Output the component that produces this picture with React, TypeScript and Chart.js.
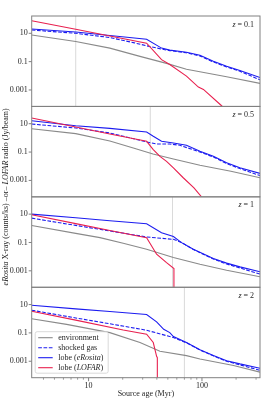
import React, { useEffect, useRef } from "react";
import { Chart, registerables } from "chart.js";

Chart.register(...registerables);

type P = [number, number];

const FONT = "'Liberation Serif', 'Times New Roman', serif";

const AGE_MIN = 3.15;
const AGE_MAX = 325;
const VAL_MIN = 6.9e-5;
const VAL_MAX = 166;

const redshifts = ["0.1", "0.5", "1", "2"];
const markerAges = [7.7, 35, 55, 70];

const xTickValues = [10, 100];
const xMinorTicks = [4, 5, 6, 7, 8, 9, 20, 30, 40, 50, 60, 70, 80, 90, 200, 300];
const yTickValues = [0.001, 0.1, 10];
const yTickLabels = ["0.001", "0.1", "10"];

const legendLabels = ["environment", "shocked gas", "lobe (eRosita)", "lobe (LOFAR)"];

// z = 0.1
const env_z01: P[] = [[3.15, 7.6], [7.7, 2.6], [15.4, 0.9], [28.4, 0.235], [48.7, 0.075], [73, 0.029], [165, 0.0085], [325, 0.0029]];
const shock_z01: P[] = [[3.15, 17], [7.7, 10], [15.4, 5], [24.8, 2.2], [32.5, 1.31], [44, 0.77], [52, 0.6], [73, 0.42], [96, 0.25], [126, 0.095], [165, 0.042], [216, 0.021], [325, 0.0052]];
const lobeX_z01: P[] = [[3.15, 20], [7.7, 12.4], [15.4, 7], [32.5, 3.8], [44, 0.9], [52, 0.65], [73, 0.46], [96, 0.28], [126, 0.105], [165, 0.047], [216, 0.024], [325, 0.0075]];
const lobeR_z01: P[] = [[3.15, 76], [7.7, 19.5], [15.4, 6.4], [32.5, 2.0], [44, 0.138], [52, 0.062], [73, 0.0095], [93, 0.0016], [103, 0.0011], [149, 7.7e-5], [180, 1.5e-5]];

// z = 0.5
const env_z05: P[] = [[3.15, 4.46], [7.7, 2.0], [15.4, 0.6], [24.8, 0.196], [37, 0.072], [56, 0.032], [96, 0.0117], [180, 0.0044], [325, 0.00154]];
const shock_z05: P[] = [[3.15, 9.5], [7.7, 5.0], [15.4, 2.2], [32.5, 0.52], [39.8, 0.37], [52, 0.37], [64, 0.3], [96, 0.1], [126, 0.045], [165, 0.0155], [216, 0.0068], [325, 0.0022]];
const lobeX_z05: P[] = [[3.15, 16.3], [7.7, 7.2], [15.4, 4.7], [32.5, 2.6], [37.2, 1.3], [44, 0.575], [56, 0.44], [73, 0.3], [96, 0.115], [126, 0.051], [165, 0.0174], [216, 0.0077], [325, 0.0031]];
const lobeR_z05: P[] = [[3.15, 25], [7.7, 5.8], [15.4, 1.9], [32.5, 0.575], [37.2, 0.15], [42.6, 0.05], [48.7, 0.022], [56, 0.0077], [68, 0.0016], [85, 0.0003], [99, 7e-5], [115, 1.5e-5]];

// z = 1
const env_z1: P[] = [[3.15, 1.6], [7.7, 0.44], [12.6, 0.22], [20.2, 0.087], [32.5, 0.033], [56, 0.0087], [96, 0.0029], [165, 0.0011], [325, 0.00038]];
const shock_z1: P[] = [[3.15, 5.2], [7.7, 1.6], [15.4, 0.65], [32.5, 0.245], [56, 0.166], [66, 0.1], [84, 0.032], [126, 0.0068], [165, 0.003], [216, 0.0016], [325, 0.00059]];
const lobeX_z1: P[] = [[3.15, 10], [7.7, 5.5], [15.4, 3.4], [32.5, 2.09], [44, 0.49], [56, 0.26], [66, 0.098], [84, 0.033], [126, 0.0074], [165, 0.0035], [216, 0.0019], [325, 0.00085]];
const lobeR_z1: P[] = [[3.15, 9], [7.7, 2.15], [15.4, 0.71], [32.5, 0.22], [39.8, 0.0148], [48.7, 0.0038], [56.6, 0.00145], [56.6, 1e-6]];

// z = 2
const env_z2: P[] = [[3.15, 1.0], [6.4, 0.4], [15.4, 0.105], [28.4, 0.021], [42.6, 0.005], [73, 0.0025], [96, 0.00144], [190, 0.0005], [325, 0.00017]];
const shock_z2: P[] = [[3.15, 4.0], [7.7, 1.14], [15.4, 0.44], [32.5, 0.155], [56, 0.047], [73, 0.02], [96, 0.0062], [126, 0.0024], [165, 0.001], [216, 0.00055], [325, 0.00023]];
const lobeX_z2: P[] = [[3.15, 9], [7.7, 5.0], [15.4, 3.2], [32.5, 2.0], [39.8, 0.6], [46, 0.18], [52, 0.105], [56, 0.055], [73, 0.021], [96, 0.0065], [126, 0.0025], [165, 0.0011], [216, 0.00065], [325, 0.00032]];
const lobeR_z2: P[] = [[3.15, 3.4], [7.7, 0.8], [20.2, 0.162], [32.5, 0.081], [37.2, 0.021], [39.8, 0.0022], [40.4, 0.0018], [40.4, 1e-6]];

const envSeries = [env_z01, env_z05, env_z1, env_z2];
const shockSeries = [shock_z01, shock_z05, shock_z1, shock_z2];
const lobeXSeries = [lobeX_z01, lobeX_z05, lobeX_z1, lobeX_z2];
const lobeRSeries = [lobeR_z01, lobeR_z05, lobeR_z1, lobeR_z2];

const C_ENV = "#8a8a8a";
const C_BLUE = "#1c1cf0";
const C_RED = "#e8204f";
const C_FRAME = "#808080";
const C_MARK = "#cfcfcf";
const C_TEXT = "#262626";

const axisIds = ["y0", "y1", "y2", "y3"];

const toXY = (arr: P[]) => arr.map(([x, y]) => ({ x, y }));

function drawMixed(ctx: CanvasRenderingContext2D, parts: [string, boolean][], x: number, y: number, size: number, align: "left" | "center" | "right") {
  let total = 0;
  const widths = parts.map(([t, it]) => {
    ctx.font = `${it ? "italic " : ""}${size}px ${FONT}`;
    const w = ctx.measureText(t).width;
    total += w;
    return w;
  });
  let cx = align === "left" ? x : align === "center" ? x - total / 2 : x - total;
  ctx.textAlign = "left";
  parts.forEach(([t, it], i) => {
    ctx.font = `${it ? "italic " : ""}${size}px ${FONT}`;
    ctx.fillText(t, cx, y);
    cx += widths[i];
  });
}

function splitItalic(label: string): [string, boolean][] {
  const m = label.match(/^(.*\()(.*)(\))$/);
  if (!m) return [[label, false]];
  return [[m[1], false], [m[2], true], [m[3], false]];
}

const panelPlugin = {
  id: "panelPlugin",
  beforeDatasetDraw(chart: any, args: any) {
    const ys = args.meta.yScale;
    const ca = chart.chartArea;
    const ctx = chart.ctx;
    ctx.save();
    ctx.beginPath();
    ctx.rect(ca.left, ys.top, ca.right - ca.left, ys.bottom - ys.top);
    ctx.clip();
  },
  afterDatasetDraw(chart: any) {
    chart.ctx.restore();
  },
  afterDraw(chart: any) {
    const ctx: CanvasRenderingContext2D = chart.ctx;
    const ca = chart.chartArea;
    const xs = chart.scales.x;
    ctx.save();
    // frames + y tick marks + z labels
    axisIds.forEach((id, i) => {
      const s = chart.scales[id];
      ctx.strokeStyle = C_FRAME;
      ctx.lineWidth = 1;
      ctx.strokeRect(ca.left, s.top, ca.right - ca.left, s.bottom - s.top);
      yTickValues.forEach((v) => {
        const py = s.getPixelForValue(v);
        ctx.beginPath();
        ctx.moveTo(ca.left - 3, py);
        ctx.lineTo(ca.left, py);
        ctx.stroke();
      });
      ctx.fillStyle = C_TEXT;
      ctx.textBaseline = "middle";
      drawMixed(ctx, [["z", true], [" = " + redshifts[i], false]], ca.right - 6, s.top + 8.5, 8, "right");
    });
    // x ticks
    const bottom = chart.scales[axisIds[3]].bottom;
    ctx.strokeStyle = C_FRAME;
    ctx.lineWidth = 0.8;
    xMinorTicks.forEach((v) => {
      const px = xs.getPixelForValue(v);
      ctx.beginPath();
      ctx.moveTo(px, bottom);
      ctx.lineTo(px, bottom + 2);
      ctx.stroke();
    });
    ctx.lineWidth = 1;
    xTickValues.forEach((v) => {
      const px = xs.getPixelForValue(v);
      ctx.beginPath();
      ctx.moveTo(px, bottom);
      ctx.lineTo(px, bottom + 3.5);
      ctx.stroke();
    });
    // x title
    ctx.fillStyle = C_TEXT;
    ctx.textBaseline = "middle";
    drawMixed(ctx, [["Source age (Myr)", false]], (ca.left + ca.right) / 2, 393.7, 8, "center");
    // y title
    ctx.save();
    const topPanel = chart.scales[axisIds[0]];
    ctx.translate(5.5, (topPanel.top + bottom) / 2);
    ctx.rotate(-Math.PI / 2);
    drawMixed(
      ctx,
      [["eRosita", true], [" X-ray (counts/ks) \u2013or\u2013 ", false], ["LOFAR", true], [" radio (Jy/beam)", false]],
      0, 0, 8, "center"
    );
    ctx.restore();
    // legend
    const lx = ca.left + 3.5;
    const ly = bottom - 46;
    const lw = 73;
    const lh = 41.5;
    ctx.beginPath();
    (ctx as any).roundRect(lx, ly, lw, lh, 2);
    ctx.fillStyle = "rgba(255,255,255,0.8)";
    ctx.fill();
    ctx.strokeStyle = "#d0d0d0";
    ctx.lineWidth = 0.8;
    ctx.stroke();
    const styles = [
      { c: C_ENV, d: [] as number[] },
      { c: C_BLUE, d: [3.7, 1.6] },
      { c: C_BLUE, d: [] as number[] },
      { c: C_RED, d: [] as number[] },
    ];
    legendLabels.forEach((lab, i) => {
      const yy = ly + 6 + i * 10;
      ctx.strokeStyle = styles[i].c;
      ctx.setLineDash(styles[i].d);
      ctx.lineWidth = 1.1;
      ctx.beginPath();
      ctx.moveTo(lx + 3, yy);
      ctx.lineTo(lx + 17.5, yy);
      ctx.stroke();
      ctx.setLineDash([]);
      ctx.fillStyle = C_TEXT;
      ctx.textBaseline = "middle";
      drawMixed(ctx, splitItalic(lab), lx + 23, yy, 8, "left");
    });
    ctx.restore();
  },
};

export default function App() {
  const ref = useRef<HTMLCanvasElement>(null);
  useEffect(() => {
    if (!ref.current) return;
    const datasets: any[] = [];
    for (let i = 0; i < 4; i++) {
      const yAxisID = axisIds[i];
      datasets.push({
        label: "marker",
        data: [{ x: markerAges[i], y: VAL_MIN }, { x: markerAges[i], y: VAL_MAX }],
        borderColor: C_MARK, borderWidth: 0.8, yAxisID, order: 10,
      });
      datasets.push({ label: legendLabels[0], data: toXY(envSeries[i]), borderColor: C_ENV, borderWidth: 1.1, yAxisID, order: 4 });
      datasets.push({ label: legendLabels[1], data: toXY(shockSeries[i]), borderColor: C_BLUE, borderWidth: 1.1, borderDash: [3.7, 1.6], yAxisID, order: 3 });
      datasets.push({ label: legendLabels[2], data: toXY(lobeXSeries[i]), borderColor: C_BLUE, borderWidth: 1.1, yAxisID, order: 2 });
      datasets.push({ label: legendLabels[3], data: toXY(lobeRSeries[i]), borderColor: C_RED, borderWidth: 1.1, yAxisID, order: 1 });
    }
    const yScale = (id: string) => ({
      type: "logarithmic",
      position: "left",
      stack: "panels",
      stackWeight: 1,
      min: VAL_MIN,
      max: VAL_MAX,
      bounds: "data",
      grid: { display: false, drawTicks: false },
      border: { display: false },
      afterBuildTicks: (s: any) => {
        s.ticks = yTickValues.map((v) => ({ value: v }));
      },
      afterFit: (s: any) => {
        s.width = 31.7;
      },
      ticks: {
        autoSkip: false,
        padding: 4,
        color: C_TEXT,
        font: { family: FONT, size: 8 },
        callback: (v: number) => {
          const k = yTickValues.findIndex((t) => Math.abs(t - v) / t < 1e-6);
          return k >= 0 ? yTickLabels[k] : "";
        },
      },
    });
    const scales: any = {
      x: {
        type: "logarithmic",
        position: "bottom",
        min: AGE_MIN,
        max: AGE_MAX,
        bounds: "data",
        grid: { display: false, drawTicks: false },
        border: { display: false },
        afterBuildTicks: (s: any) => {
          s.ticks = xTickValues.map((v) => ({ value: v }));
        },
        afterFit: (s: any) => {
          s.height = 35.3;
        },
        ticks: {
          autoSkip: false,
          maxRotation: 0,
          padding: 3,
          color: C_TEXT,
          font: { family: FONT, size: 8 },
          callback: (v: number) => String(v),
        },
      },
    };
    // bottom panel defined first; last defined is placed on top
    for (let i = 3; i >= 0; i--) scales[axisIds[i]] = yScale(axisIds[i]);

    const chart = new Chart(ref.current, {
      type: "line",
      data: { datasets },
      options: {
        animation: false,
        responsive: false,
        parsing: true,
        layout: { padding: { left: 0, right: 9, top: 16, bottom: 0 } },
        elements: { point: { radius: 0 }, line: { tension: 0 } },
        plugins: { legend: { display: false }, tooltip: { enabled: false } },
        scales,
      } as any,
      plugins: [panelPlugin as any],
    });
    return () => chart.destroy();
  }, []);
  return (
    <div style={{ position: "fixed", left: 0, top: 0, width: 269, height: 413, background: "#fff" }}>
      <canvas ref={ref} width={269} height={413} style={{ display: "block" }} />
    </div>
  );
}
